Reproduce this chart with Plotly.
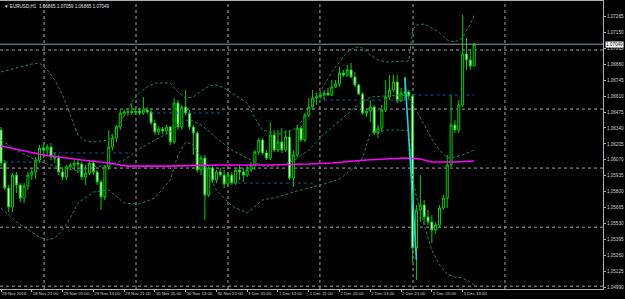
import plotly.graph_objects as go

# ---------------- data (EURUSD H1) ----------------
bars = list(range(124))

open_ = [
1.06322, 1.06043, 1.05831, 1.05670, 1.05941, 1.05857, 1.05746, 1.05848, 1.05941, 1.05967,
1.06068, 1.06170, 1.06153, 1.06178, 1.06094, 1.06085, 1.05967, 1.05924, 1.06009, 1.06026,
1.06043, 1.06034, 1.05924, 1.05958, 1.06043, 1.05967, 1.05882, 1.05755, 1.06009, 1.06178,
1.06255, 1.06348, 1.06466, 1.06475, 1.06478, 1.06472, 1.06483, 1.06466, 1.06492, 1.06475,
1.06382, 1.06305, 1.06331, 1.06314, 1.06348, 1.06221, 1.06551, 1.06348, 1.06517, 1.06466,
1.06348, 1.06297, 1.05984, 1.06085, 1.05772, 1.06001, 1.05899, 1.05967, 1.05941, 1.05865,
1.05941, 1.05873, 1.05984, 1.05967, 1.05941, 1.05984, 1.06026, 1.06136, 1.06238, 1.06128,
1.06085, 1.06280, 1.06153, 1.06221, 1.06153, 1.06263, 1.05916, 1.06111, 1.06339, 1.06238,
1.06449, 1.06517, 1.06593, 1.06602, 1.06619, 1.06636, 1.06619, 1.06687, 1.06712, 1.06805,
1.06788, 1.06831, 1.06771, 1.06704, 1.06627, 1.06466, 1.06483, 1.06517, 1.06297, 1.06339,
1.06492, 1.06602, 1.06661, 1.06729, 1.06568, 1.06636, 1.06644, 1.06610, 1.05323, 1.05645,
1.05687, 1.05586, 1.05543, 1.05475, 1.05518, 1.05662, 1.05746, 1.06026, 1.06365, 1.06322,
1.06534, 1.06966, 1.06915, 1.06865]

high = [
1.06348, 1.06068, 1.05857, 1.05958, 1.05967, 1.05873, 1.05873, 1.05967, 1.06001, 1.06094,
1.06195, 1.06212, 1.06204, 1.06212, 1.06136, 1.06111, 1.06001, 1.06026, 1.06043, 1.06068,
1.06068, 1.06051, 1.06026, 1.06068, 1.06068, 1.05984, 1.05899, 1.06026, 1.06322, 1.06280,
1.06365, 1.06492, 1.06492, 1.06509, 1.06551, 1.06509, 1.06509, 1.06602, 1.06517, 1.06509,
1.06407, 1.06356, 1.06348, 1.06365, 1.06356, 1.06593, 1.06577, 1.06534, 1.06661, 1.06492,
1.06365, 1.06314, 1.06111, 1.06111, 1.06026, 1.06026, 1.05984, 1.06001, 1.05984, 1.05967,
1.05967, 1.06001, 1.06026, 1.06001, 1.06026, 1.06051, 1.06153, 1.06255, 1.06255, 1.06153,
1.06390, 1.06322, 1.06322, 1.06339, 1.06322, 1.06322, 1.06153, 1.06365, 1.06356, 1.06466,
1.06593, 1.06661, 1.06636, 1.06644, 1.06661, 1.06678, 1.06746, 1.06746, 1.06856, 1.06831,
1.06873, 1.06890, 1.06814, 1.06712, 1.06644, 1.06492, 1.06577, 1.06534, 1.06365, 1.06534,
1.06746, 1.06788, 1.06788, 1.06788, 1.06678, 1.06763, 1.06661, 1.06627, 1.05687, 1.05941,
1.05730, 1.05645, 1.05602, 1.05543, 1.05687, 1.05772, 1.06111, 1.06619, 1.06407, 1.06577,
1.07296, 1.07102, 1.07000, 1.07059]

low = [
1.06017, 1.05814, 1.05628, 1.05628, 1.05789, 1.05713, 1.05704, 1.05814, 1.05899, 1.05907,
1.06043, 1.06085, 1.06102, 1.06068, 1.06043, 1.05941, 1.05899, 1.05899, 1.05984, 1.05984,
1.05958, 1.05899, 1.05857, 1.05941, 1.05941, 1.05857, 1.05645, 1.05730, 1.05984, 1.06153,
1.06221, 1.06322, 1.06433, 1.06441, 1.06449, 1.06449, 1.06449, 1.06449, 1.06458, 1.06365,
1.06280, 1.06280, 1.06289, 1.06289, 1.06195, 1.06204, 1.06322, 1.06322, 1.06449, 1.06322,
1.06111, 1.05958, 1.05941, 1.05560, 1.05755, 1.05873, 1.05873, 1.05924, 1.05831, 1.05848,
1.05857, 1.05857, 1.05899, 1.05882, 1.05924, 1.05967, 1.05984, 1.06111, 1.06111, 1.06068,
1.06068, 1.06136, 1.06136, 1.06128, 1.06136, 1.05899, 1.05840, 1.06094, 1.06221, 1.06221,
1.06433, 1.06492, 1.06534, 1.06585, 1.06577, 1.06610, 1.06610, 1.06678, 1.06687, 1.06771,
1.06771, 1.06763, 1.06687, 1.06619, 1.06449, 1.06433, 1.06390, 1.06280, 1.06255, 1.06305,
1.06475, 1.06577, 1.06644, 1.06551, 1.06560, 1.06577, 1.06577, 1.05204, 1.05052, 1.05543,
1.05518, 1.05518, 1.05365, 1.05442, 1.05492, 1.05645, 1.05662, 1.06009, 1.06297, 1.06297,
1.06517, 1.06831, 1.06831, 1.06865]

close = [
1.06043, 1.05831, 1.05670, 1.05941, 1.05857, 1.05746, 1.05848, 1.05941, 1.05967, 1.06068,
1.06170, 1.06153, 1.06178, 1.06094, 1.06085, 1.05967, 1.05924, 1.06009, 1.06026, 1.06043,
1.06034, 1.05924, 1.05958, 1.06043, 1.05967, 1.05882, 1.05755, 1.06009, 1.06178, 1.06255,
1.06348, 1.06466, 1.06475, 1.06478, 1.06472, 1.06483, 1.06466, 1.06492, 1.06475, 1.06382,
1.06305, 1.06331, 1.06314, 1.06348, 1.06221, 1.06551, 1.06348, 1.06517, 1.06466, 1.06348,
1.06297, 1.05984, 1.06085, 1.05772, 1.06001, 1.05899, 1.05967, 1.05941, 1.05865, 1.05941,
1.05873, 1.05984, 1.05967, 1.05941, 1.05984, 1.06026, 1.06136, 1.06238, 1.06128, 1.06085,
1.06280, 1.06153, 1.06221, 1.06153, 1.06263, 1.05916, 1.06111, 1.06339, 1.06238, 1.06449,
1.06517, 1.06593, 1.06602, 1.06619, 1.06636, 1.06619, 1.06687, 1.06712, 1.06805, 1.06788,
1.06831, 1.06771, 1.06704, 1.06627, 1.06466, 1.06483, 1.06517, 1.06297, 1.06339, 1.06492,
1.06602, 1.06661, 1.06729, 1.06568, 1.06636, 1.06644, 1.06610, 1.05323, 1.05645, 1.05687,
1.05586, 1.05543, 1.05475, 1.05518, 1.05662, 1.05746, 1.06026, 1.06365, 1.06322, 1.06534,
1.06966, 1.06915, 1.06865, 1.07049]

# Bollinger bands
upper_bar = [0, 4, 8, 10, 12, 14, 16, 18, 20, 22, 24, 26, 28, 30, 32, 34, 36, 38, 40, 44,
             46, 48, 50, 52, 54, 56, 58, 60, 64, 66, 68, 72, 76, 78, 80, 82, 84, 86, 88, 90,
             92, 94, 96, 98, 100, 104, 106, 107, 108, 110, 112, 114, 116, 118, 120, 121, 122, 123]
upper = [1.06814, 1.06848, 1.06881, 1.06890, 1.06831, 1.06746, 1.06619, 1.06449, 1.06280, 1.06229,
         1.06221, 1.06229, 1.06238, 1.06339, 1.06441, 1.06560, 1.06636, 1.06687, 1.06720, 1.06720,
         1.06644, 1.06593, 1.06602, 1.06653, 1.06695, 1.06704, 1.06678, 1.06636, 1.06551, 1.06424,
         1.06322, 1.06289, 1.06322, 1.06390, 1.06475, 1.06593, 1.06704, 1.06814, 1.06898, 1.06983,
         1.07025, 1.07017, 1.06958, 1.06915, 1.06898, 1.06907, 1.06907, 1.07169, 1.07212, 1.07220,
         1.07186, 1.07144, 1.07085, 1.07068, 1.07102, 1.07169, 1.07220, 1.07296]

mid_bar = [0, 4, 8, 12, 16, 20, 24, 28, 32, 36, 40, 44, 46, 48, 50, 52, 54, 56, 60, 64,
           68, 72, 76, 80, 84, 88, 92, 96, 100, 104, 106, 107, 108, 110, 112, 114, 116, 118, 120, 123]
middle = [1.06238, 1.06153, 1.06085, 1.06034, 1.06001, 1.05975, 1.06009, 1.06026, 1.06068, 1.06161,
          1.06238, 1.06305, 1.06373, 1.06407, 1.06399, 1.06365, 1.06314, 1.06255, 1.06153, 1.06085,
          1.06017, 1.06017, 1.06060, 1.06153, 1.06289, 1.06399, 1.06517, 1.06602, 1.06610, 1.06619,
          1.06610, 1.06543, 1.06483, 1.06365, 1.06246, 1.06153, 1.06085, 1.06094, 1.06111, 1.06153]

lower_bar = [0, 4, 8, 10, 12, 14, 16, 18, 20, 24, 28, 32, 36, 40, 44, 46, 48, 50, 52, 54,
             56, 60, 64, 68, 72, 76, 80, 84, 88, 92, 94, 96, 100, 104, 106, 107, 108, 110, 112, 114,
             116, 118, 120, 122, 123]
lower = [1.05662, 1.05543, 1.05458, 1.05416, 1.05391, 1.05408, 1.05475, 1.05577, 1.05704, 1.05797,
         1.05814, 1.05704, 1.05696, 1.05746, 1.05899, 1.06111, 1.06221, 1.06195, 1.06085, 1.05941,
         1.05814, 1.05679, 1.05619, 1.05730, 1.05755, 1.05797, 1.05831, 1.05865, 1.05907, 1.06009,
         1.06085, 1.06297, 1.06322, 1.06322, 1.06314, 1.05916, 1.05755, 1.05518, 1.05306, 1.05179,
         1.05102, 1.05077, 1.05069, 1.05035, 1.05010]

# magenta moving average
ma_bar = [0, 11, 21, 28, 33, 43, 57, 69, 80, 86, 95, 100, 105, 109, 112, 118, 123]
ma = [1.06187, 1.06111, 1.06068, 1.06043, 1.06017, 1.06017, 1.06026, 1.06026, 1.06034, 1.06043,
      1.06068, 1.06077, 1.06085, 1.06077, 1.06051, 1.06051, 1.06060]

# dotted blue level segments
level_start = [1, 13.5, 39, 60, 84, 107]
level_end = [9.5, 33, 57, 81, 105, 123]
level_price = [1.06051, 1.06128, 1.06466, 1.05873, 1.06576, 1.06619]

# cyan streak at the sell-off
streak_bar = [105, 108]
streak_price = [1.06771, 1.05221]

# axis labels
x_tick_bars = [0, 8, 16, 24, 32, 40, 48, 56, 64, 72, 80, 88, 96, 104, 112, 120]
x_tick_text = ["28 Nov 2016", "28 Nov 21:00", "29 Nov 05:00", "29 Nov 13:00", "29 Nov 21:00",
               "30 Nov 05:00", "30 Nov 13:00", "30 Nov 21:00", "1 Dec 05:00", "1 Dec 13:00",
               "1 Dec 21:00", "2 Dec 05:00", "2 Dec 13:00", "2 Dec 21:00", "5 Dec 05:00",
               "5 Dec 13:00"]
y_tick_text = ["1.04990", "1.05125", "1.05260", "1.05395", "1.05530", "1.05665", "1.05800",
               "1.05935", "1.06070", "1.06205", "1.06340", "1.06475", "1.06610", "1.06745",
               "1.06880", "1.07015", "1.07150", "1.07285"]
y_tick_vals = [float(t) for t in y_tick_text]

grid_prices = [1.0500, 1.0550, 1.0600, 1.0650, 1.0700]
grid_bars = [11.2, 35.1, 59.0, 82.9, 107.1, 131.0]

bid = 1.07049
title_text = "▼ EURUSD,H1  1.06865 1.07059 1.06865 1.07049"

# ---------------- styling ----------------
GREEN = "#00d000"
BAND = "#1f8048"
FONT = "Liberation Sans"
X_RANGE = [-0.26, 156.49]
Y_RANGE = [1.04976, 1.07415]

fig = go.Figure()

fig.add_trace(go.Candlestick(
    x=bars, open=open_, high=high, low=low, close=close,
    increasing=dict(line=dict(color=GREEN, width=1), fillcolor="#000000"),
    decreasing=dict(line=dict(color=GREEN, width=1), fillcolor="#ffffff"),
    whiskerwidth=0, showlegend=False, hoverinfo="skip"))

for bx, by in [(upper_bar, upper), (mid_bar, middle), (lower_bar, lower)]:
    fig.add_trace(go.Scatter(x=bx, y=by, mode="lines", showlegend=False, hoverinfo="skip",
                             line=dict(color=BAND, width=1, dash="3px,2px")))

fig.add_trace(go.Scatter(x=ma_bar, y=ma, mode="lines", showlegend=False, hoverinfo="skip",
                         line=dict(color="#ff00ff", width=1.6)))

for s, e, p in zip(level_start, level_end, level_price):
    fig.add_trace(go.Scatter(x=[s, e], y=[p, p], mode="lines", showlegend=False, hoverinfo="skip",
                             line=dict(color="#2050a0", width=1, dash="dot")))

fig.add_trace(go.Scatter(x=streak_bar, y=streak_price, mode="lines", showlegend=False,
                         hoverinfo="skip", line=dict(color="#20c8f0", width=1.6)))

shapes = []
for gp in grid_prices:
    shapes.append(dict(type="line", xref="paper", x0=0, x1=1, yref="y", y0=gp, y1=gp,
                       line=dict(color="#a0a0a0", width=1, dash="dot"), layer="below"))
for gb in grid_bars:
    shapes.append(dict(type="line", xref="x", x0=gb, x1=gb, yref="paper", y0=0, y1=1,
                       line=dict(color="#a0a0a0", width=1, dash="dot"), layer="below"))
shapes.append(dict(type="line", xref="paper", x0=0, x1=1, yref="y", y0=bid, y1=bid,
                   line=dict(color="#8a9aaa", width=1), layer="above"))

fig.update_layout(
    width=625, height=299,
    margin=dict(l=0, r=22, t=1, b=10),
    paper_bgcolor="#000000", plot_bgcolor="#000000",
    showlegend=False, boxgap=0.25,
    shapes=shapes,
    font=dict(family=FONT, color="#d0d0d0"),
    xaxis=dict(range=X_RANGE, tickvals=x_tick_bars, ticktext=x_tick_text,
               ticks="outside", ticklen=2, tickcolor="#b0b0b0", tickangle=0,
               ticklabelposition="outside right",
               tickfont=dict(size=4.3, color="#d0d0d0", family=FONT),
               showgrid=False, zeroline=False, showline=True, linecolor="#b0b0b0",
               linewidth=1, mirror=True, rangeslider=dict(visible=False), fixedrange=True),
    yaxis=dict(range=Y_RANGE, side="right", tickvals=y_tick_vals, ticktext=y_tick_text,
               ticks="outside", ticklen=2, tickcolor="#b0b0b0",
               tickfont=dict(size=4.6, color="#d0d0d0", family=FONT),
               showgrid=False, zeroline=False, showline=True, linecolor="#b0b0b0",
               linewidth=1, mirror=True, fixedrange=True),
    annotations=[
        dict(text=title_text, xref="paper", yref="paper", x=0.004, y=0.995,
             xanchor="left", yanchor="top", showarrow=False,
             font=dict(size=4.6, color="#e0e0e0", family=FONT)),
        dict(text="1.07049", xref="paper", yref="y", x=1.003, y=bid,
             xanchor="left", yanchor="middle", showarrow=False, bgcolor="#ffffff",
             borderpad=0, font=dict(size=4.6, color="#000000", family=FONT)),
    ],
)

fig.write_html("out.html")
